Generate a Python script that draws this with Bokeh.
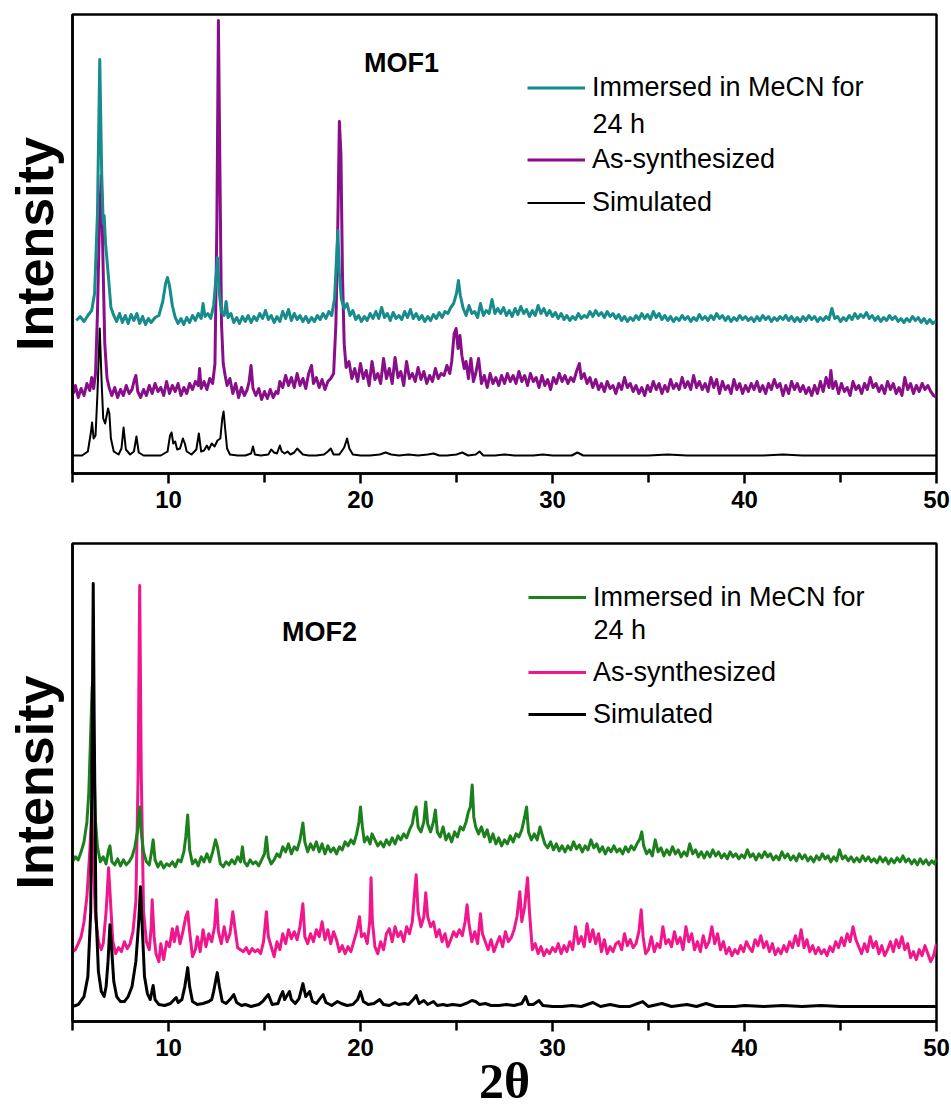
from bokeh.plotting import figure
from bokeh.layouts import column
from bokeh.models import Range1d, FixedTicker, Legend, LegendItem, Label
from bokeh.embed import file_html
from bokeh.resources import INLINE

# ---------------------------------------------------------------- data
# 2-theta axis ticks
two_theta_major = [10, 20, 30, 40, 50]
two_theta_minor = [5, 15, 25, 35, 45]

# MOF1 patterns, (2theta, stacked intensity in a.u.)
mof1_immersed = [
    (5.2, 153), (5.4, 157), (5.6, 152), (5.8, 158), (6.0, 163), (6.15, 180), (6.3, 260), (6.42, 414),
    (6.52, 300), (6.6, 250), (6.65, 258), (6.72, 230), (6.8, 213), (6.9, 190), (7.0, 166), (7.15, 158),
    (7.3, 152), (7.45, 160), (7.6, 151), (7.75, 158), (7.9, 150), (8.05, 159), (8.2, 153), (8.35, 160),
    (8.5, 150), (8.65, 157), (8.8, 149), (8.95, 155), (9.1, 151), (9.3, 156), (9.5, 158), (9.7, 172),
    (9.85, 190), (9.95, 196), (10.05, 188), (10.2, 168), (10.35, 156), (10.5, 150), (10.65, 155),
    (10.8, 149), (10.95, 156), (11.1, 151), (11.25, 158), (11.4, 153), (11.55, 160), (11.7, 155),
    (11.8, 170), (11.9, 157), (12.05, 160), (12.2, 155), (12.35, 168), (12.45, 190), (12.55, 216),
    (12.65, 180), (12.75, 162), (12.9, 158), (13.0, 172), (13.1, 156), (13.25, 160), (13.4, 151),
    (13.55, 156), (13.7, 150), (13.85, 157), (14.0, 152), (14.15, 158), (14.3, 151), (14.45, 157),
    (14.6, 153), (14.75, 160), (14.9, 155), (15.05, 163), (15.2, 154), (15.35, 158), (15.5, 151),
    (15.65, 157), (15.8, 152), (15.95, 162), (16.1, 155), (16.25, 164), (16.4, 153), (16.55, 160),
    (16.7, 154), (16.85, 158), (17.0, 152), (17.15, 157), (17.3, 151), (17.45, 156), (17.6, 152),
    (17.75, 158), (17.9, 154), (18.05, 160), (18.2, 155), (18.35, 162), (18.5, 158), (18.65, 175),
    (18.75, 215), (18.82, 243), (18.9, 200), (19.0, 175), (19.15, 165), (19.3, 170), (19.45, 158),
    (19.6, 163), (19.75, 154), (19.9, 158), (20.05, 152), (20.2, 157), (20.35, 153), (20.5, 160),
    (20.65, 155), (20.8, 162), (20.95, 155), (21.1, 166), (21.25, 156), (21.4, 160), (21.55, 153),
    (21.7, 161), (21.85, 155), (22.0, 158), (22.15, 154), (22.3, 162), (22.45, 156), (22.6, 164),
    (22.75, 155), (22.9, 160), (23.05, 154), (23.2, 158), (23.35, 152), (23.5, 157), (23.65, 153),
    (23.8, 159), (23.95, 155), (24.1, 161), (24.25, 156), (24.4, 162), (24.55, 160), (24.7, 166),
    (24.85, 170), (25.0, 180), (25.1, 193), (25.2, 178), (25.35, 165), (25.5, 158), (25.65, 168),
    (25.8, 160), (25.95, 162), (26.1, 156), (26.25, 170), (26.4, 158), (26.55, 163), (26.7, 160),
    (26.85, 174), (27.0, 160), (27.15, 165), (27.3, 160), (27.45, 166), (27.6, 158), (27.75, 163),
    (27.9, 157), (28.05, 165), (28.2, 159), (28.35, 167), (28.5, 160), (28.65, 164), (28.8, 157),
    (28.95, 163), (29.1, 158), (29.25, 168), (29.4, 160), (29.55, 165), (29.7, 158), (29.85, 163),
    (30.0, 157), (30.15, 161), (30.3, 155), (30.45, 160), (30.6, 154), (30.75, 158), (30.9, 153),
    (31.05, 157), (31.2, 154), (31.35, 160), (31.5, 155), (31.65, 158), (31.8, 156), (31.95, 162),
    (32.1, 157), (32.25, 163), (32.4, 158), (32.55, 161), (32.7, 156), (32.85, 162), (33.0, 157),
    (33.15, 160), (33.3, 155), (33.45, 159), (33.6, 153), (33.75, 157), (33.9, 152), (34.05, 156),
    (34.2, 153), (34.35, 158), (34.5, 154), (34.65, 160), (34.8, 155), (34.95, 159), (35.1, 154),
    (35.25, 162), (35.4, 156), (35.55, 160), (35.7, 154), (35.85, 158), (36.0, 153), (36.15, 157),
    (36.3, 152), (36.45, 156), (36.6, 153), (36.75, 158), (36.9, 154), (37.05, 157), (37.2, 152),
    (37.35, 156), (37.5, 153), (37.65, 159), (37.8, 154), (37.95, 157), (38.1, 153), (38.25, 158),
    (38.4, 154), (38.55, 160), (38.7, 155), (38.85, 158), (39.0, 153), (39.15, 157), (39.3, 152),
    (39.45, 156), (39.6, 153), (39.75, 158), (39.9, 154), (40.05, 157), (40.2, 153), (40.35, 156),
    (40.5, 152), (40.65, 157), (40.8, 153), (40.95, 158), (41.1, 154), (41.25, 157), (41.4, 152),
    (41.55, 156), (41.7, 153), (41.85, 157), (42.0, 154), (42.15, 158), (42.3, 153), (42.45, 157),
    (42.6, 152), (42.75, 156), (42.9, 152), (43.05, 157), (43.2, 153), (43.35, 158), (43.5, 154),
    (43.65, 157), (43.8, 152), (43.95, 156), (44.1, 153), (44.25, 157), (44.4, 154), (44.55, 165),
    (44.7, 155), (44.85, 157), (45.0, 152), (45.15, 156), (45.3, 153), (45.45, 158), (45.6, 154),
    (45.75, 160), (45.9, 155), (46.05, 159), (46.2, 156), (46.35, 161), (46.5, 155), (46.65, 158),
    (46.8, 153), (46.95, 157), (47.1, 152), (47.25, 156), (47.4, 153), (47.55, 158), (47.7, 154),
    (47.85, 157), (48.0, 152), (48.15, 155), (48.3, 151), (48.45, 155), (48.6, 152), (48.75, 157),
    (48.9, 153), (49.05, 156), (49.2, 151), (49.35, 155), (49.5, 150), (49.65, 154), (49.8, 150),
    (49.95, 152),
]

mof1_as_synth = [
    (5.05, 80), (5.15, 88), (5.3, 76), (5.45, 85), (5.6, 78), (5.75, 90), (5.9, 83), (6.0, 96),
    (6.1, 85), (6.2, 100), (6.3, 160), (6.4, 250), (6.5, 298), (6.58, 220), (6.68, 130), (6.8, 95),
    (6.92, 85), (7.05, 78), (7.2, 86), (7.35, 76), (7.5, 84), (7.65, 78), (7.8, 88), (7.95, 80),
    (8.1, 84), (8.2, 92), (8.3, 98), (8.4, 82), (8.55, 76), (8.7, 84), (8.85, 78), (9.0, 88),
    (9.15, 80), (9.3, 90), (9.45, 82), (9.6, 86), (9.75, 78), (9.9, 92), (10.05, 80), (10.2, 88),
    (10.35, 82), (10.5, 90), (10.65, 78), (10.8, 86), (10.95, 80), (11.1, 90), (11.25, 84),
    (11.4, 92), (11.55, 88), (11.62, 105), (11.7, 85), (11.85, 92), (12.0, 84), (12.15, 95),
    (12.3, 90), (12.42, 110), (12.52, 250), (12.6, 453), (12.68, 300), (12.76, 150), (12.85, 110),
    (12.95, 98), (13.05, 88), (13.2, 95), (13.35, 80), (13.5, 90), (13.65, 76), (13.8, 86),
    (13.95, 78), (14.1, 84), (14.2, 92), (14.3, 108), (14.4, 85), (14.55, 78), (14.7, 85),
    (14.85, 74), (15.0, 82), (15.15, 75), (15.3, 84), (15.45, 76), (15.6, 82), (15.7, 80),
    (15.8, 92), (15.95, 86), (16.1, 98), (16.25, 88), (16.4, 96), (16.55, 86), (16.7, 100),
    (16.85, 88), (17.0, 95), (17.15, 85), (17.3, 100), (17.45, 108), (17.55, 90), (17.7, 96),
    (17.85, 86), (18.0, 94), (18.15, 84), (18.3, 92), (18.45, 95), (18.6, 100), (18.72, 150),
    (18.82, 250), (18.9, 352), (18.98, 320), (19.06, 200), (19.15, 130), (19.25, 106), (19.4, 112),
    (19.55, 95), (19.7, 105), (19.85, 92), (20.0, 110), (20.15, 95), (20.3, 103), (20.45, 88),
    (20.6, 112), (20.75, 94), (20.9, 100), (21.05, 90), (21.2, 115), (21.35, 95), (21.5, 105),
    (21.65, 90), (21.8, 116), (21.95, 96), (22.1, 102), (22.25, 88), (22.4, 112), (22.55, 95),
    (22.7, 100), (22.85, 92), (23.0, 106), (23.15, 94), (23.3, 102), (23.45, 90), (23.6, 98),
    (23.75, 92), (23.9, 105), (24.05, 95), (24.2, 100), (24.35, 98), (24.5, 108), (24.65, 100),
    (24.75, 112), (24.88, 140), (24.98, 145), (25.08, 125), (25.18, 138), (25.28, 118), (25.4, 105),
    (25.5, 112), (25.62, 95), (25.75, 115), (25.88, 92), (26.0, 100), (26.15, 115), (26.3, 90),
    (26.45, 98), (26.6, 86), (26.75, 100), (26.9, 90), (27.05, 96), (27.2, 88), (27.35, 98),
    (27.5, 90), (27.65, 100), (27.8, 92), (27.95, 98), (28.1, 90), (28.25, 102), (28.4, 92),
    (28.55, 98), (28.7, 88), (28.85, 100), (29.0, 92), (29.15, 96), (29.3, 86), (29.45, 98),
    (29.6, 88), (29.75, 94), (29.9, 84), (30.05, 96), (30.2, 90), (30.35, 100), (30.5, 92),
    (30.65, 98), (30.8, 90), (30.95, 96), (31.1, 92), (31.25, 102), (31.4, 110), (31.5, 95),
    (31.65, 100), (31.8, 90), (31.95, 96), (32.1, 86), (32.25, 94), (32.4, 84), (32.55, 90),
    (32.7, 82), (32.85, 92), (33.0, 85), (33.15, 88), (33.3, 80), (33.45, 90), (33.6, 84),
    (33.75, 96), (33.9, 86), (34.05, 90), (34.2, 82), (34.35, 88), (34.5, 80), (34.65, 86),
    (34.8, 78), (34.95, 88), (35.1, 82), (35.25, 92), (35.4, 84), (35.55, 90), (35.7, 80),
    (35.85, 88), (36.0, 82), (36.15, 94), (36.3, 85), (36.45, 90), (36.6, 84), (36.75, 96),
    (36.9, 86), (37.05, 92), (37.2, 84), (37.35, 98), (37.5, 86), (37.65, 92), (37.8, 84),
    (37.95, 90), (38.1, 82), (38.25, 96), (38.4, 86), (38.55, 94), (38.7, 80), (38.85, 92),
    (39.0, 84), (39.15, 88), (39.3, 80), (39.45, 94), (39.6, 84), (39.75, 90), (39.9, 80),
    (40.05, 88), (40.2, 82), (40.35, 90), (40.5, 84), (40.65, 92), (40.8, 82), (40.95, 88),
    (41.1, 80), (41.25, 90), (41.4, 84), (41.55, 94), (41.7, 86), (41.85, 90), (42.0, 78),
    (42.15, 88), (42.3, 80), (42.45, 92), (42.6, 84), (42.75, 90), (42.9, 82), (43.05, 88),
    (43.2, 80), (43.35, 86), (43.5, 78), (43.65, 88), (43.8, 80), (43.95, 92), (44.1, 82),
    (44.25, 96), (44.4, 86), (44.5, 103), (44.6, 85), (44.75, 92), (44.9, 80), (45.05, 90),
    (45.2, 82), (45.35, 86), (45.5, 78), (45.65, 92), (45.8, 84), (45.95, 88), (46.1, 80),
    (46.25, 90), (46.4, 84), (46.55, 96), (46.7, 86), (46.85, 90), (47.0, 82), (47.15, 88),
    (47.3, 80), (47.45, 92), (47.6, 84), (47.75, 90), (47.9, 80), (48.05, 86), (48.2, 78),
    (48.35, 96), (48.5, 84), (48.65, 90), (48.8, 80), (48.95, 88), (49.1, 82), (49.25, 90),
    (49.4, 84), (49.55, 88), (49.7, 82), (49.85, 78), (50.0, 76),
]

mof1_simulated = [
    (5.0, 18), (5.5, 18), (5.8, 22), (5.95, 40), (6.02, 51), (6.1, 35), (6.2, 38), (6.3, 80),
    (6.42, 145), (6.52, 90), (6.6, 55), (6.7, 50), (6.85, 65), (6.92, 60), (7.0, 35), (7.15, 22),
    (7.4, 19), (7.55, 25), (7.66, 46), (7.78, 24), (8.0, 19), (8.2, 22), (8.33, 37), (8.45, 21),
    (8.7, 18), (9.2, 18), (9.6, 18), (9.95, 22), (10.08, 38), (10.16, 41), (10.25, 30), (10.35, 32),
    (10.45, 24), (10.6, 25), (10.75, 35), (10.85, 30), (10.95, 22), (11.2, 19), (11.45, 24),
    (11.58, 40), (11.7, 22), (11.85, 23), (12.0, 28), (12.1, 24), (12.25, 30), (12.4, 27),
    (12.55, 33), (12.7, 35), (12.8, 55), (12.87, 62), (12.95, 45), (13.05, 25), (13.2, 19),
    (13.6, 18), (14.0, 18), (14.3, 20), (14.4, 27), (14.5, 19), (14.8, 18), (15.2, 19), (15.35, 24),
    (15.5, 21), (15.65, 20), (15.8, 28), (15.9, 22), (16.05, 20), (16.2, 22), (16.35, 19),
    (16.55, 21), (16.7, 25), (16.85, 22), (17.0, 19), (17.3, 18), (17.7, 18), (18.1, 19),
    (18.3, 22), (18.45, 25), (18.6, 19), (18.9, 19), (19.15, 26), (19.3, 35), (19.42, 25),
    (19.6, 19), (20.0, 18), (20.5, 18), (21.0, 19), (21.3, 21), (21.6, 19), (22.0, 18), (22.5, 19),
    (23.0, 18), (23.5, 19), (23.8, 20), (24.1, 18), (24.5, 18), (25.0, 19), (25.3, 21), (25.6, 18),
    (26.0, 19), (26.2, 22), (26.4, 18), (27.0, 18), (27.5, 19), (28.0, 18), (28.5, 18), (29.0, 18),
    (29.5, 19), (30.0, 18), (30.5, 18), (31.0, 18), (31.3, 21), (31.6, 18), (32.0, 18), (33.0, 18),
    (34.0, 18), (35.0, 18), (36.0, 19), (37.0, 18), (38.0, 18), (39.0, 18), (40.0, 18), (41.0, 18),
    (42.0, 19), (43.0, 18), (44.0, 18), (45.0, 18), (46.0, 18), (47.0, 18), (48.0, 18), (49.0, 18),
    (50.0, 18),
]

# MOF2 patterns, (2theta, stacked intensity in a.u.)
mof2_immersed = [
    (5.0, 160), (5.15, 165), (5.3, 162), (5.45, 170), (5.6, 180), (5.75, 200), (5.85, 230),
    (5.95, 290), (6.02, 335), (6.1, 270), (6.2, 200), (6.3, 175), (6.45, 160), (6.6, 165),
    (6.75, 158), (6.88, 172), (6.95, 176), (7.05, 160), (7.2, 157), (7.35, 163), (7.5, 156),
    (7.65, 162), (7.8, 157), (7.95, 160), (8.1, 165), (8.25, 175), (8.38, 190), (8.5, 215),
    (8.58, 190), (8.7, 170), (8.85, 160), (9.0, 157), (9.1, 168), (9.2, 182), (9.3, 162),
    (9.45, 155), (9.6, 160), (9.75, 154), (9.9, 158), (10.05, 156), (10.2, 160), (10.35, 155),
    (10.5, 162), (10.65, 160), (10.8, 170), (10.9, 185), (11.0, 207), (11.1, 172), (11.25, 158),
    (11.4, 162), (11.55, 156), (11.7, 165), (11.85, 160), (12.0, 168), (12.15, 160), (12.3, 170),
    (12.45, 182), (12.55, 175), (12.7, 158), (12.85, 155), (13.0, 160), (13.15, 157), (13.3, 162),
    (13.45, 158), (13.6, 165), (13.75, 160), (13.85, 175), (13.95, 160), (14.1, 156), (14.25, 162),
    (14.4, 158), (14.55, 160), (14.7, 156), (14.85, 162), (15.0, 168), (15.1, 185), (15.2, 165),
    (15.35, 158), (15.5, 162), (15.65, 168), (15.8, 165), (15.95, 175), (16.1, 170), (16.25, 178),
    (16.4, 168), (16.55, 175), (16.7, 172), (16.85, 182), (17.0, 199), (17.1, 180), (17.25, 170),
    (17.4, 178), (17.55, 172), (17.7, 180), (17.85, 170), (18.0, 178), (18.15, 168), (18.3, 176),
    (18.45, 170), (18.6, 174), (18.75, 168), (18.9, 175), (19.05, 172), (19.2, 180), (19.35, 176),
    (19.5, 182), (19.65, 178), (19.8, 188), (19.92, 200), (20.0, 215), (20.1, 195), (20.2, 180),
    (20.35, 185), (20.5, 178), (20.6, 188), (20.75, 182), (20.9, 176), (21.05, 180), (21.2, 175),
    (21.35, 182), (21.5, 177), (21.65, 184), (21.8, 178), (21.95, 186), (22.1, 182), (22.25, 188),
    (22.4, 184), (22.55, 192), (22.7, 198), (22.8, 210), (22.9, 215), (23.0, 195), (23.15, 190),
    (23.3, 200), (23.4, 220), (23.5, 198), (23.65, 190), (23.8, 200), (23.9, 212), (24.0, 190),
    (24.15, 185), (24.3, 195), (24.45, 182), (24.6, 188), (24.75, 180), (24.9, 190), (25.05, 185),
    (25.2, 195), (25.35, 192), (25.5, 200), (25.62, 210), (25.72, 215), (25.82, 237), (25.9, 205),
    (26.0, 195), (26.15, 188), (26.3, 195), (26.45, 185), (26.6, 192), (26.75, 180), (26.9, 188),
    (27.05, 178), (27.2, 184), (27.35, 176), (27.5, 182), (27.65, 178), (27.8, 186), (27.95, 180),
    (28.1, 188), (28.25, 185), (28.4, 192), (28.55, 205), (28.65, 215), (28.75, 190), (28.9, 182),
    (29.05, 188), (29.2, 182), (29.35, 195), (29.45, 188), (29.6, 178), (29.75, 174), (29.9, 180),
    (30.05, 172), (30.2, 178), (30.35, 171), (30.5, 176), (30.65, 170), (30.8, 176), (30.95, 172),
    (31.1, 180), (31.25, 173), (31.4, 177), (31.55, 170), (31.7, 176), (31.85, 172), (32.0, 182),
    (32.15, 174), (32.3, 178), (32.45, 170), (32.6, 175), (32.75, 168), (32.9, 174), (33.05, 170),
    (33.2, 176), (33.35, 170), (33.5, 173), (33.65, 168), (33.8, 175), (33.95, 170), (34.1, 176),
    (34.25, 172), (34.4, 178), (34.55, 183), (34.65, 190), (34.75, 176), (34.9, 168), (35.05, 172),
    (35.2, 166), (35.35, 182), (35.5, 170), (35.65, 174), (35.8, 166), (35.95, 172), (36.1, 167),
    (36.25, 175), (36.4, 168), (36.55, 172), (36.7, 165), (36.85, 170), (37.0, 166), (37.15, 178),
    (37.3, 168), (37.45, 172), (37.6, 165), (37.75, 170), (37.9, 164), (38.05, 170), (38.2, 165),
    (38.35, 172), (38.5, 166), (38.65, 170), (38.8, 164), (38.95, 168), (39.1, 163), (39.25, 170),
    (39.4, 165), (39.55, 168), (39.7, 163), (39.85, 167), (40.0, 164), (40.15, 172), (40.3, 165),
    (40.45, 168), (40.6, 162), (40.75, 168), (40.9, 164), (41.05, 170), (41.2, 165), (41.35, 168),
    (41.5, 162), (41.65, 166), (41.8, 162), (41.95, 170), (42.1, 164), (42.25, 168), (42.4, 162),
    (42.55, 166), (42.7, 161), (42.85, 168), (43.0, 163), (43.15, 167), (43.3, 161), (43.45, 165),
    (43.6, 160), (43.75, 166), (43.9, 162), (44.05, 168), (44.2, 163), (44.35, 166), (44.5, 160),
    (44.65, 165), (44.8, 161), (44.95, 172), (45.1, 163), (45.25, 166), (45.4, 161), (45.55, 165),
    (45.7, 160), (45.85, 164), (46.0, 160), (46.15, 166), (46.3, 161), (46.45, 165), (46.6, 160),
    (46.75, 163), (46.9, 159), (47.05, 165), (47.2, 160), (47.35, 164), (47.5, 158), (47.65, 163),
    (47.8, 159), (47.95, 164), (48.1, 160), (48.25, 166), (48.4, 160), (48.55, 163), (48.7, 158),
    (48.85, 162), (49.0, 157), (49.15, 163), (49.3, 158), (49.45, 162), (49.6, 157), (49.75, 161),
    (49.9, 158), (50.0, 163),
]

mof2_as_synth = [
    (5.0, 70), (5.15, 72), (5.3, 78), (5.45, 85), (5.6, 100), (5.75, 125), (5.9, 170), (6.0, 210),
    (6.1, 150), (6.2, 105), (6.35, 80), (6.5, 72), (6.6, 78), (6.75, 110), (6.88, 154), (6.98, 120),
    (7.1, 80), (7.25, 68), (7.4, 74), (7.55, 70), (7.7, 80), (7.85, 73), (8.0, 78), (8.15, 90),
    (8.3, 120), (8.42, 250), (8.5, 437), (8.58, 250), (8.7, 110), (8.85, 80), (9.0, 72), (9.1, 95),
    (9.15, 122), (9.25, 85), (9.35, 68), (9.5, 60), (9.6, 78), (9.75, 62), (9.9, 80), (10.05, 75),
    (10.2, 93), (10.3, 80), (10.45, 95), (10.6, 78), (10.75, 90), (10.9, 105), (11.0, 110),
    (11.1, 90), (11.25, 65), (11.4, 72), (11.5, 85), (11.65, 70), (11.8, 92), (11.95, 75),
    (12.1, 88), (12.25, 80), (12.4, 95), (12.5, 122), (12.6, 90), (12.75, 78), (12.9, 95),
    (13.05, 80), (13.2, 88), (13.35, 110), (13.45, 95), (13.6, 74), (13.75, 72), (13.9, 70),
    (14.05, 74), (14.2, 68), (14.35, 73), (14.5, 70), (14.65, 72), (14.8, 68), (14.95, 80),
    (15.1, 110), (15.2, 85), (15.35, 75), (15.5, 65), (15.65, 80), (15.8, 72), (15.95, 88),
    (16.1, 78), (16.25, 92), (16.4, 83), (16.55, 90), (16.7, 82), (16.85, 95), (17.0, 118),
    (17.1, 85), (17.25, 78), (17.4, 88), (17.55, 80), (17.7, 92), (17.85, 85), (18.0, 100),
    (18.15, 82), (18.3, 92), (18.45, 78), (18.6, 90), (18.75, 82), (18.9, 70), (19.05, 76),
    (19.2, 68), (19.35, 75), (19.5, 70), (19.65, 80), (19.8, 90), (19.95, 105), (20.05, 85),
    (20.2, 88), (20.35, 78), (20.48, 100), (20.55, 144), (20.62, 100), (20.75, 75), (20.9, 68),
    (21.05, 80), (21.2, 72), (21.35, 88), (21.5, 93), (21.65, 80), (21.8, 95), (21.95, 85),
    (22.1, 90), (22.25, 80), (22.4, 95), (22.55, 88), (22.7, 100), (22.82, 130), (22.9, 147),
    (23.0, 110), (23.15, 95), (23.3, 105), (23.4, 129), (23.5, 105), (23.65, 95), (23.8, 100),
    (23.95, 85), (24.1, 92), (24.25, 80), (24.4, 88), (24.55, 75), (24.7, 82), (24.85, 90),
    (25.0, 85), (25.15, 92), (25.3, 86), (25.45, 100), (25.55, 117), (25.65, 98), (25.8, 80),
    (25.95, 90), (26.1, 78), (26.25, 108), (26.35, 88), (26.5, 80), (26.65, 72), (26.8, 82),
    (26.95, 70), (27.1, 78), (27.25, 85), (27.4, 75), (27.55, 90), (27.7, 80), (27.85, 84),
    (28.0, 92), (28.15, 105), (28.3, 130), (28.4, 100), (28.55, 115), (28.7, 144), (28.8, 110),
    (28.95, 72), (29.1, 78), (29.25, 68), (29.4, 75), (29.55, 66), (29.7, 72), (29.85, 68),
    (30.0, 74), (30.15, 70), (30.3, 78), (30.45, 68), (30.6, 76), (30.75, 70), (30.9, 80),
    (31.05, 72), (31.2, 95), (31.35, 78), (31.5, 85), (31.65, 75), (31.8, 98), (31.95, 80),
    (32.1, 92), (32.25, 78), (32.4, 88), (32.55, 70), (32.7, 82), (32.85, 68), (33.0, 75),
    (33.15, 70), (33.3, 78), (33.45, 80), (33.6, 72), (33.75, 88), (33.9, 76), (34.05, 82),
    (34.2, 74), (34.35, 78), (34.5, 90), (34.62, 112), (34.72, 85), (34.85, 68), (35.0, 72),
    (35.15, 85), (35.3, 70), (35.45, 78), (35.6, 74), (35.75, 95), (35.9, 78), (36.05, 82),
    (36.2, 75), (36.35, 90), (36.5, 78), (36.65, 84), (36.8, 72), (36.95, 95), (37.1, 80),
    (37.25, 88), (37.4, 72), (37.55, 80), (37.7, 70), (37.85, 86), (38.0, 74), (38.15, 80),
    (38.3, 95), (38.45, 78), (38.6, 88), (38.75, 72), (38.9, 80), (39.05, 68), (39.2, 74),
    (39.35, 66), (39.5, 72), (39.65, 68), (39.8, 76), (39.95, 70), (40.1, 80), (40.25, 74),
    (40.4, 70), (40.55, 82), (40.7, 76), (40.85, 86), (41.0, 74), (41.15, 80), (41.3, 70),
    (41.45, 78), (41.6, 67), (41.75, 73), (41.9, 68), (42.05, 76), (42.2, 70), (42.35, 80),
    (42.5, 74), (42.65, 86), (42.8, 76), (42.95, 92), (43.1, 74), (43.25, 82), (43.4, 70),
    (43.55, 76), (43.7, 68), (43.85, 74), (44.0, 68), (44.15, 72), (44.3, 66), (44.45, 75),
    (44.6, 70), (44.75, 80), (44.9, 74), (45.05, 84), (45.2, 76), (45.35, 88), (45.5, 80),
    (45.65, 95), (45.8, 82), (45.95, 75), (46.1, 68), (46.25, 78), (46.4, 70), (46.55, 85),
    (46.7, 74), (46.85, 80), (47.0, 68), (47.15, 76), (47.3, 66), (47.45, 72), (47.6, 80),
    (47.75, 70), (47.9, 82), (48.05, 74), (48.2, 85), (48.35, 72), (48.5, 78), (48.65, 64),
    (48.8, 70), (48.95, 62), (49.1, 72), (49.25, 66), (49.4, 76), (49.55, 68), (49.7, 60),
    (49.85, 66), (50.0, 78),
]

mof2_simulated = [
    (5.0, 15), (5.3, 17), (5.6, 25), (5.8, 45), (5.95, 110), (6.03, 300), (6.08, 439), (6.13, 300),
    (6.22, 110), (6.35, 50), (6.5, 30), (6.65, 25), (6.75, 35), (6.85, 60), (6.95, 97), (7.05, 70),
    (7.15, 40), (7.3, 25), (7.5, 20), (7.7, 20), (7.9, 25), (8.1, 35), (8.3, 60), (8.45, 100),
    (8.54, 135), (8.62, 100), (8.75, 45), (8.9, 28), (9.05, 22), (9.2, 36), (9.3, 22), (9.5, 17),
    (9.8, 16), (10.1, 18), (10.3, 22), (10.4, 24), (10.5, 19), (10.7, 22), (10.85, 35), (11.0, 54),
    (11.1, 35), (11.25, 20), (11.5, 17), (11.8, 18), (12.1, 20), (12.25, 22), (12.35, 30),
    (12.45, 40), (12.54, 49), (12.65, 35), (12.8, 20), (13.0, 18), (13.2, 22), (13.4, 27),
    (13.55, 19), (13.8, 16), (14.0, 17), (14.3, 15), (14.5, 16), (14.7, 17), (14.9, 20), (15.2, 27),
    (15.4, 17), (15.7, 18), (15.85, 26), (15.95, 30), (16.05, 22), (16.3, 30), (16.4, 22),
    (16.6, 18), (16.8, 23), (17.0, 38), (17.15, 25), (17.35, 30), (17.5, 20), (17.7, 18),
    (17.85, 22), (18.05, 27), (18.2, 19), (18.5, 16), (18.8, 20), (19.0, 18), (19.3, 16), (19.6, 17),
    (19.85, 22), (20.0, 30), (20.15, 20), (20.4, 17), (20.7, 18), (21.0, 22), (21.2, 17), (21.5, 16),
    (21.8, 19), (22.0, 17), (22.3, 18), (22.5, 17), (22.75, 22), (22.9, 26), (23.05, 18), (23.3, 21),
    (23.5, 17), (23.8, 20), (24.0, 16), (24.3, 17), (24.5, 16), (24.8, 17), (25.2, 16), (25.6, 19),
    (25.8, 21), (26.0, 20), (26.2, 17), (26.5, 18), (26.8, 16), (27.2, 16), (27.6, 17), (28.0, 16),
    (28.4, 18), (28.6, 25), (28.75, 17), (29.0, 17), (29.3, 21), (29.5, 16), (30.0, 15), (30.5, 15),
    (31.0, 16), (31.5, 15), (32.1, 19), (32.5, 15), (33.0, 17), (33.5, 15), (34.0, 15), (34.7, 20),
    (35.0, 15), (35.7, 18), (36.2, 15), (37.0, 17), (37.5, 15), (38.0, 18), (38.5, 15), (39.5, 15),
    (40.0, 16), (41.0, 15), (42.0, 16), (43.0, 15), (44.0, 16), (45.0, 15), (46.0, 15), (47.0, 15),
    (48.0, 15), (49.0, 15), (50.0, 15),
]

SANS = "Liberation Sans"
SERIF = "Liberation Serif"
INK = "black"
FRAME_LEFT, FRAME_RIGHT = 72, 15


def xy(points):
    return [p[0] for p in points], [p[1] for p in points]


def panel(height, y_max, border_top, border_bottom, x_label):
    p = figure(width=951, height=height, output_backend="svg", toolbar_location=None,
               x_range=Range1d(5, 50), y_range=Range1d(0, y_max),
               min_border_left=FRAME_LEFT, min_border_right=FRAME_RIGHT,
               min_border_top=border_top, min_border_bottom=border_bottom)
    p.grid.visible = False
    p.outline_line_color = INK
    p.outline_line_width = 2.5
    p.outline_line_alpha = 1
    p.background_fill_color = "white"
    p.border_fill_color = "white"

    xa = p.xaxis[0]
    xa.ticker = FixedTicker(ticks=two_theta_major, minor_ticks=two_theta_minor)
    xa.axis_line_width = 2.5
    xa.axis_line_color = INK
    xa.major_tick_line_color = INK
    xa.minor_tick_line_color = INK
    xa.major_tick_line_width = 2.5
    xa.minor_tick_line_width = 2.5
    xa.major_tick_out = 10
    xa.major_tick_in = 0
    xa.minor_tick_out = 9
    xa.minor_tick_in = 0
    xa.major_label_text_font = SANS
    xa.major_label_text_font_style = "bold"
    xa.major_label_text_font_size = "24px"
    xa.major_label_text_color = INK
    xa.major_label_standoff = 7
    if x_label:
        xa.axis_label = x_label
        xa.axis_label_text_font = SERIF
        xa.axis_label_text_font_style = "bold"
        xa.axis_label_text_font_size = "50px"
        xa.axis_label_text_color = INK
        xa.axis_label_standoff = -6

    ya = p.yaxis[0]
    ya.ticker = FixedTicker(ticks=[])
    ya.major_tick_out = 0
    ya.major_tick_in = 0
    ya.minor_tick_out = 0
    ya.minor_tick_in = 0
    ya.major_label_standoff = 0
    ya.axis_line_width = 2.5
    ya.axis_line_color = INK
    ya.axis_label = "Intensity"
    ya.axis_label_text_font = SANS
    ya.axis_label_text_font_style = "bold"
    ya.axis_label_text_font_size = "52px"
    ya.axis_label_text_color = INK
    ya.axis_label_standoff = 9
    return p


def add_legend(p, renderers, labels, first_left, first_bottom, rest_bottom, row_h, wrap_label, wrap_y):
    common = dict(glyph_width=58, glyph_height=row_h, label_height=row_h, label_standoff=7,
                  padding=0, margin=0, spacing=0, border_line_color=None,
                  background_fill_alpha=0, label_text_font=SANS, label_text_font_size="27px",
                  label_text_color=INK)
    lead = Legend(items=[LegendItem(label=labels[0], renderers=[renderers[0]])],
                  location=(first_left, first_bottom), **common)
    rest = Legend(items=[LegendItem(label=l, renderers=[r]) for l, r in zip(labels[1:], renderers[1:])],
                  location=(first_left, rest_bottom), **common)
    p.add_layout(lead)
    p.add_layout(rest)
    p.add_layout(Label(x=first_left + 58 + 7, y=wrap_y, x_units="screen", y_units="screen",
                       text=wrap_label, text_font=SANS, text_font_size="27px", text_color=INK,
                       text_baseline="middle", text_align="left"))


LINE = dict(line_join="round")

# ---------------------------------------------------------------- MOF1
p1 = panel(528, 459, 14, 55, None)
x, y = xy(mof1_as_synth)
r1b = p1.line(x, y, line_color="#880E8A", line_width=3, **LINE)
x, y = xy(mof1_simulated)
r1c = p1.line(x, y, line_color="black", line_width=2, **LINE)
x, y = xy(mof1_immersed)
r1a = p1.line(x, y, line_color="#178C8C", line_width=3, **LINE)
add_legend(p1, [r1a, r1b, r1c], ["Immersed in MeCN for", "As-synthesized", "Simulated"],
           455, 364, 249, 43, "24 h", 350)
p1.add_layout(Label(x=329, y=411, x_units="screen", y_units="screen", text="MOF1",
                    text_font=SANS, text_font_style="bold", text_font_size="27px", text_color=INK,
                    text_align="center", text_baseline="middle"))

# ---------------------------------------------------------------- MOF2
p2 = panel(583, 479, 15, 89, "2\u03b8")
x, y = xy(mof2_as_synth)
r2b = p2.line(x, y, line_color="#F0168C", line_width=3, **LINE)
x, y = xy(mof2_immersed)
r2a = p2.line(x, y, line_color="#1C801C", line_width=3, **LINE)
x, y = xy(mof2_simulated)
r2c = p2.line(x, y, line_color="black", line_width=3, **LINE)
add_legend(p2, [r2a, r2b, r2c], ["Immersed in MeCN for", "As-synthesized", "Simulated"],
           456, 403, 286, 42, "24 h", 392)
p2.add_layout(Label(x=247, y=390, x_units="screen", y_units="screen", text="MOF2",
                    text_font=SANS, text_font_style="bold", text_font_size="27px", text_color=INK,
                    text_align="center", text_baseline="middle"))

layout = column(p1, p2, spacing=0)
open("out.html", "w").write(file_html(layout, INLINE))
